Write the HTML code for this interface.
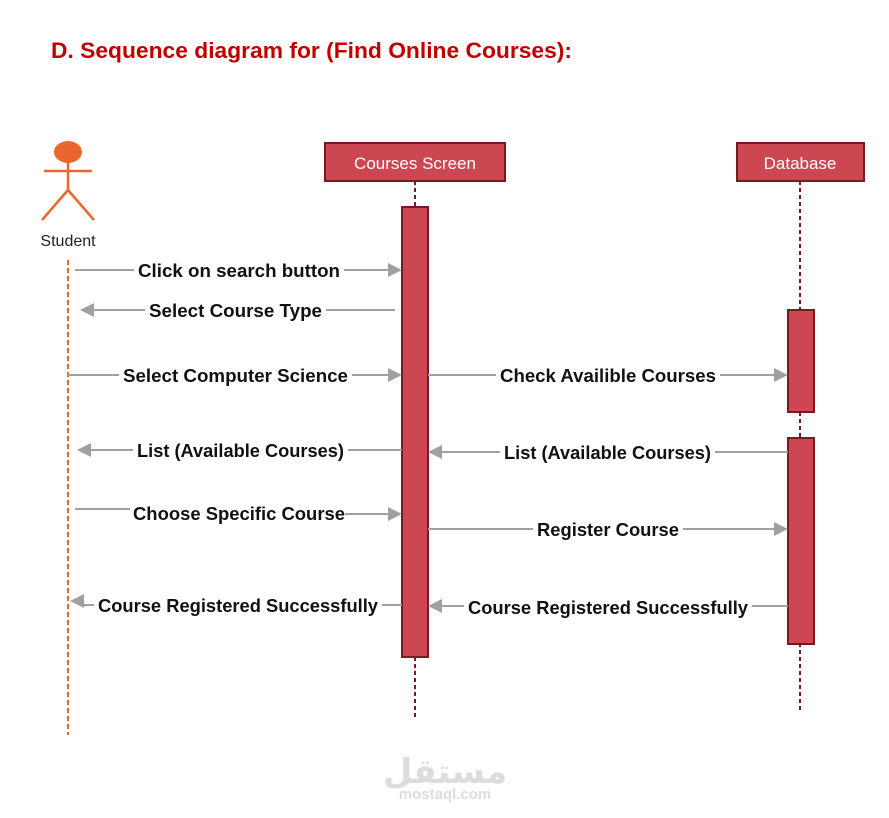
<!DOCTYPE html>
<html><head><meta charset="utf-8"><style>
html,body{margin:0;padding:0;background:#fff;width:889px;height:818px;overflow:hidden}
svg{display:block}
.lb{font-family:"Liberation Sans",sans-serif;font-size:18px;font-weight:bold;fill:#111}
</style></head><body>
<svg width="889" height="818" viewBox="0 0 889 818" xmlns="http://www.w3.org/2000/svg">
<text x="51" y="58" font-family="Liberation Sans,sans-serif" font-size="22" font-weight="bold" fill="#c00000" textLength="521" lengthAdjust="spacingAndGlyphs">D. Sequence diagram for (Find Online Courses):</text>

<!-- actor -->
<g stroke="#e8672c" stroke-width="2.5" fill="none">
<line x1="44" y1="171" x2="92" y2="171"/>
<line x1="68" y1="162" x2="68" y2="190"/>
<line x1="68" y1="190" x2="42" y2="220"/>
<line x1="68" y1="190" x2="94" y2="220"/>
<line x1="68" y1="260" x2="68" y2="735" stroke-dasharray="5,3" stroke-width="2"/>
</g>
<ellipse cx="68" cy="152" rx="14" ry="11" fill="#e8672c"/>
<text x="68" y="246" text-anchor="middle" font-family="Liberation Sans,sans-serif" font-size="16" fill="#222">Student</text>

<!-- lifelines -->
<line x1="415" y1="181" x2="415" y2="718" stroke="#7a1a20" stroke-width="2" stroke-dasharray="4,3"/>
<line x1="800" y1="181" x2="800" y2="710" stroke="#7a1a20" stroke-width="2" stroke-dasharray="4,3"/>
<g fill="#cc4751" stroke="#7a1a20" stroke-width="2">
<rect x="325" y="143" width="180" height="38"/>
<rect x="737" y="143" width="127" height="38"/>
<rect x="402" y="207" width="26" height="450"/>
<rect x="788" y="310" width="26" height="102"/>
<rect x="788" y="438" width="26" height="206"/>
</g>
<text x="415" y="169" text-anchor="middle" font-family="Liberation Sans,sans-serif" font-size="17" fill="#fff">Courses Screen</text>
<text x="800" y="169" text-anchor="middle" font-family="Liberation Sans,sans-serif" font-size="17" fill="#fff">Database</text>

<!-- messages -->
<g stroke="#a0a0a0" stroke-width="2">
<line x1="75" y1="270" x2="390" y2="270"/>
<line x1="92" y1="310" x2="395" y2="310"/>
<line x1="68" y1="375" x2="390" y2="375"/>
<line x1="428" y1="375" x2="776" y2="375"/>
<line x1="90" y1="450" x2="402" y2="450"/>
<line x1="440" y1="452" x2="788" y2="452"/>
<line x1="75" y1="509" x2="130" y2="509"/>
<line x1="345" y1="514" x2="390" y2="514"/>
<line x1="428" y1="529" x2="776" y2="529"/>
<line x1="83" y1="605" x2="402" y2="605"/>
<line x1="440" y1="606" x2="788" y2="606"/>
</g>
<g fill="#a0a0a0">
<path d="M402,270 l-14,-7 v14z"/>
<path d="M80,310 l14,-7 v14z"/>
<path d="M402,375 l-14,-7 v14z"/>
<path d="M788,375 l-14,-7 v14z"/>
<path d="M77,450 l14,-7 v14z"/>
<path d="M428,452 l14,-7 v14z"/>
<path d="M402,514 l-14,-7 v14z"/>
<path d="M788,529 l-14,-7 v14z"/>
<path d="M70,601 l14,-7 v14z"/>
<path d="M428,606 l14,-7 v14z"/>
</g>
<g fill="#fff">
<rect x="134" y="258" width="210" height="24"/>
<rect x="145" y="298" width="181" height="24"/>
<rect x="119" y="363" width="233" height="24"/>
<rect x="496" y="363" width="224" height="24"/>
<rect x="133" y="438" width="215" height="24"/>
<rect x="500" y="440" width="215" height="24"/>
<rect x="533" y="517" width="150" height="24"/>
<rect x="94" y="593" width="288" height="24"/>
<rect x="464" y="594" width="288" height="24"/>
</g>
<text class="lb" x="138" y="277" textLength="202" lengthAdjust="spacingAndGlyphs">Click on search button</text>
<text class="lb" x="149" y="317" textLength="173" lengthAdjust="spacingAndGlyphs">Select Course Type</text>
<text class="lb" x="123" y="382" textLength="225" lengthAdjust="spacingAndGlyphs">Select Computer Science</text>
<text class="lb" x="500" y="382" textLength="216" lengthAdjust="spacingAndGlyphs">Check Availible Courses</text>
<text class="lb" x="137" y="457" textLength="207" lengthAdjust="spacingAndGlyphs">List (Available Courses)</text>
<text class="lb" x="504" y="459" textLength="207" lengthAdjust="spacingAndGlyphs">List (Available Courses)</text>
<text class="lb" x="133" y="520" textLength="212" lengthAdjust="spacingAndGlyphs">Choose Specific Course</text>
<text class="lb" x="537" y="536" textLength="142" lengthAdjust="spacingAndGlyphs">Register Course</text>
<text class="lb" x="98" y="612" textLength="280" lengthAdjust="spacingAndGlyphs">Course Registered Successfully</text>
<text class="lb" x="468" y="614" textLength="280" lengthAdjust="spacingAndGlyphs">Course Registered Successfully</text>

<!-- watermark -->
<text x="445" y="783" text-anchor="middle" font-family="'DejaVu Sans',sans-serif" font-size="34" font-weight="bold" fill="#dcdcdc">مستقل</text>
<text x="445" y="799" text-anchor="middle" font-family="Liberation Sans,sans-serif" font-size="15" font-weight="bold" fill="#dcdcdc">mostaql.com</text>
</svg>
</body></html>
